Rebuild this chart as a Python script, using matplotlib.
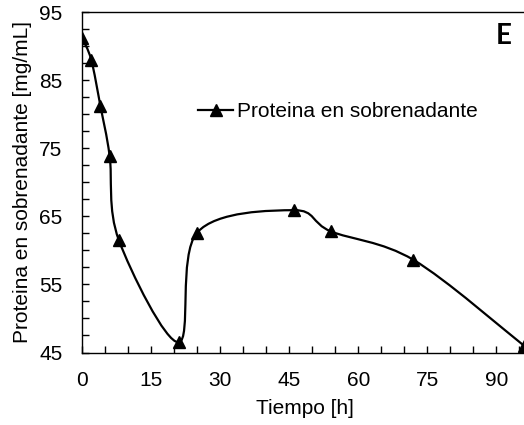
import numpy as np
import matplotlib
matplotlib.use("Agg")
import matplotlib.pyplot as plt
from matplotlib.path import Path
from matplotlib.patches import PathPatch
from matplotlib.lines import Line2D

# values
tiempo = [0, 2, 4, 6, 8, 21, 25, 46, 54, 72, 96]
proteina = [91.2, 88.0, 81.2, 73.9, 61.5, 46.5, 62.6, 65.9, 62.8, 58.6, 46.0]

x_ticks = [0, 15, 30, 45, 60, 75, 90]
y_ticks = [45, 55, 65, 75, 85, 95]


def smooth_path(xs, ys):
    """Excel-like smoothed line: cubic Bezier through each point."""
    pts = np.column_stack([xs, ys]).astype(float)
    n = len(pts)
    verts = [pts[0]]
    codes = [Path.MOVETO]
    for i in range(n - 1):
        p0 = pts[i - 1] if i > 0 else pts[i]
        p1 = pts[i]
        p2 = pts[i + 1]
        p3 = pts[i + 2] if i + 2 < n else pts[i + 1]
        c1 = p1 + (p2 - p0) / 6.0
        c2 = p2 - (p3 - p1) / 6.0
        verts += [c1, c2, p2]
        codes += [Path.CURVE4] * 3
    return Path(verts, codes)


plt.rcParams['font.family'] = ['Liberation Sans', 'DejaVu Sans']

fig = plt.figure(figsize=(5.24, 4.25), dpi=100)
ax = fig.add_axes([82 / 524, 1 - 352.5 / 425, 1 - 82 / 524, (352.5 - 12) / 425])

curve = PathPatch(smooth_path(tiempo, proteina), transform=ax.transData,
                  facecolor='none', edgecolor='black', lw=1.6)
ax.add_patch(curve)
ax.plot(tiempo, proteina, linestyle='none', marker='^', ms=8,
        color='black', zorder=3)

ax.set_xlim(0, 96)
ax.set_ylim(45, 95)
ax.set_xticks(x_ticks)
ax.set_xticks(np.arange(0, 97, 5), minor=True)
ax.set_yticks(y_ticks)
ax.set_yticks(np.arange(45, 95.1, 2.5), minor=True)
ax.tick_params(which='both', direction='in', labelsize=15, width=1)
ax.tick_params(which='major', length=5)
ax.tick_params(which='minor', length=5)
ax.tick_params(axis='y', pad=14)
ax.tick_params(axis='x', pad=13)

for side in ['left', 'bottom', 'top']:
    ax.spines[side].set_linewidth(1.0)
ax.spines['right'].set_visible(False)

ax.set_xlabel('Tiempo [h]', fontsize=15)
ax.set_ylabel('Proteina en sobrenadante [mg/mL]', fontsize=15)
ax.xaxis.set_label_coords(0.505, -0.138)
ax.yaxis.set_label_coords(-0.112, 0.5)

handle = Line2D([], [], color='black', lw=1.6, marker='^', ms=8)
ax.legend([handle], ['Proteina en sobrenadante'], loc='center left',
          bbox_to_anchor=(0.262, 0.707), frameon=False, fontsize=15,
          handlelength=1.7, handletextpad=0.2, borderpad=0, borderaxespad=0)

ax.text(0.955, 0.93, 'E', transform=ax.transAxes, ha='center', va='center',
        fontsize=20, fontweight='bold', family=['Lato', 'DejaVu Sans'])

fig.savefig('out.png', dpi=100)
